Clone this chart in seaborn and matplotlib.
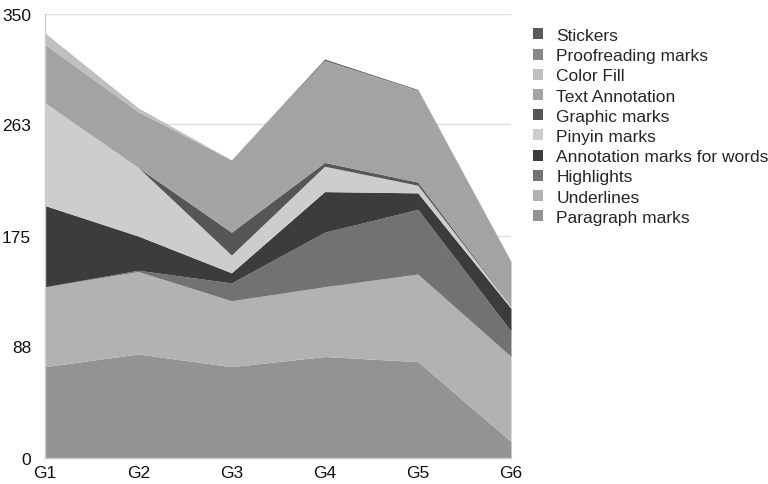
import numpy as np
import pandas as pd
import seaborn as sns
import matplotlib.pyplot as plt
from matplotlib.patches import Patch

groups = ['G1', 'G2', 'G3', 'G4', 'G5', 'G6']

# stacking order, bottom to top
paragraph_marks = [72, 82, 72, 80, 76, 13]
underlines = [63, 65, 52, 55, 69, 67]
highlights = [0, 1, 14, 43, 51, 20]
annotation_marks = [64, 27, 8, 32, 13, 18]
pinyin_marks = [81, 54, 14, 20, 6, 1.5]
graphic_marks = [0, 0, 18, 3, 2.5, 0.5]
text_annotation = [46, 44, 57, 80, 72, 35]
color_fill = [9, 3, 0, 0, 0, 0]
proofreading_marks = [0, 0, 0, 0.5, 0.5, 0]
stickers = [0, 0, 0, 1, 0.5, 0]

series_names = ['Paragraph marks', 'Underlines', 'Highlights', 'Annotation marks for words',
                'Pinyin marks', 'Graphic marks', 'Text Annotation', 'Color Fill',
                'Proofreading marks', 'Stickers']
yticks = [0, 88, 175, 263, 350]

df = pd.DataFrame({
    'Paragraph marks': paragraph_marks,
    'Underlines': underlines,
    'Highlights': highlights,
    'Annotation marks for words': annotation_marks,
    'Pinyin marks': pinyin_marks,
    'Graphic marks': graphic_marks,
    'Text Annotation': text_annotation,
    'Color Fill': color_fill,
    'Proofreading marks': proofreading_marks,
    'Stickers': stickers,
}, index=groups)

grays = ['#939393', '#b2b2b2', '#727272', '#3c3c3c', '#cdcdcd',
         '#565656', '#a3a3a3', '#bfbfbf', '#888888', '#5a5a5a']
palette = sns.color_palette(grays)

sns.set_theme(style='white')
plt.rcParams['font.family'] = ['Liberation Sans', 'DejaVu Sans']

fig = plt.figure(figsize=(7.68, 4.85), dpi=100)
ax = fig.add_axes([45 / 768, 1 - 459 / 485, (511 - 45) / 768, (459 - 15) / 485])

x = np.arange(len(groups))
ax.stackplot(x, *[df[c].values for c in series_names], colors=palette,
             linewidth=0, zorder=2)

ax.set_xlim(0, len(groups) - 1)
ax.set_ylim(0, 350)
ax.set_yticks(yticks)
ax.set_yticklabels([str(t) for t in yticks])
ax.set_xticks(x)
ax.set_xticklabels(groups)
ax.tick_params(axis='both', length=0, labelsize=12.5, colors='#111111')
ax.tick_params(axis='y', pad=10)
ax.tick_params(axis='x', pad=5)
ax.yaxis.grid(True, color='#dddddd', linewidth=1, zorder=0)
ax.set_axisbelow(True)
for side in ['top', 'right']:
    ax.spines[side].set_visible(False)
for side in ['left', 'bottom']:
    ax.spines[side].set_color('#cccccc')
    ax.spines[side].set_linewidth(1)

handles = [Patch(facecolor=palette[i], edgecolor='none', label=series_names[i])
           for i in range(len(series_names) - 1, -1, -1)]
fig.legend(handles=handles, loc='upper left', bbox_to_anchor=(533 / 768, 1 - 29 / 485),
           frameon=False, fontsize=12.5, handlelength=0.6, handleheight=0.6,
           handletextpad=0.75, labelspacing=0.3, borderaxespad=0, borderpad=0)

fig.savefig('out.png', dpi=100)
